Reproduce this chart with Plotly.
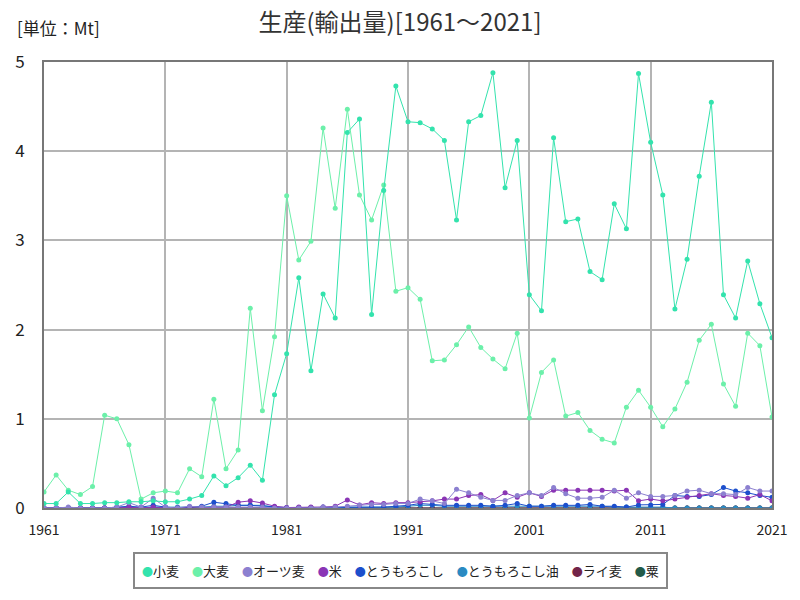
import plotly.graph_objects as go

years = list(range(1961, 2022))

wheat = [0.05, 0.05, 0.18, 0.05, 0.05, 0.06, 0.06, 0.07, 0.07, 0.08,
         0.07, 0.07, 0.10, 0.14, 0.36, 0.25, 0.34, 0.48, 0.31, 1.27,
         1.73, 2.58, 1.54, 2.40, 2.13, 4.21, 4.36, 2.17, 3.56, 4.73,
         4.33, 4.32, 4.25, 4.12, 3.23, 4.33, 4.40, 4.88, 3.59, 4.12,
         2.39, 2.21, 4.15, 3.21, 3.24, 2.65, 2.56, 3.41, 3.13, 4.87,
         4.10, 3.51, 2.23, 2.79, 3.72, 4.55, 2.39, 2.13, 2.77, 2.29, 1.91]

barley = [0.18, 0.37, 0.20, 0.15, 0.24, 1.04, 1.00, 0.71, 0.10, 0.17,
          0.19, 0.17, 0.44, 0.35, 1.22, 0.44, 0.65, 2.24, 1.09, 1.92,
          3.50, 2.78, 2.99, 4.26, 3.36, 4.47, 3.51, 3.23, 3.62, 2.43,
          2.47, 2.34, 1.65, 1.66, 1.83, 2.03, 1.80, 1.67, 1.56, 1.96,
          1.01, 1.52, 1.66, 1.03, 1.07, 0.87, 0.77, 0.73, 1.13, 1.32,
          1.13, 0.91, 1.11, 1.41, 1.88, 2.06, 1.39, 1.14, 1.96, 1.82, 1.02]

oats = [0.00, 0.00, 0.01, 0.00, 0.00, 0.00, 0.01, 0.06, 0.01, 0.11,
        0.01, 0.00, 0.02, 0.01, 0.01, 0.01, 0.01, 0.01, 0.01, 0.00,
        0.00, 0.00, 0.00, 0.01, 0.01, 0.02, 0.03, 0.04, 0.04, 0.05,
        0.05, 0.10, 0.08, 0.05, 0.21, 0.17, 0.12, 0.085, 0.085, 0.14,
        0.17, 0.14, 0.23, 0.16, 0.11, 0.11, 0.12, 0.20, 0.11, 0.17,
        0.13, 0.13, 0.14, 0.19, 0.20, 0.16, 0.16, 0.15, 0.23, 0.19, 0.19]

rice = [0.00, 0.00, 0.00, 0.00, 0.00, 0.00, 0.00, 0.01, 0.00, 0.01,
        0.00, 0.00, 0.00, 0.00, 0.01, 0.01, 0.065, 0.08, 0.055, 0.02,
        0.005, 0.01, 0.01, 0.01, 0.02, 0.09, 0.035, 0.06, 0.05, 0.06,
        0.06, 0.07, 0.08, 0.10, 0.10, 0.14, 0.15, 0.085, 0.17, 0.12,
        0.17, 0.13, 0.20, 0.20, 0.20, 0.20, 0.20, 0.19, 0.20, 0.08,
        0.10, 0.08, 0.10, 0.12, 0.14, 0.16, 0.14, 0.13, 0.11, 0.15, 0.08]

maize = [0.00, 0.00, 0.00, 0.00, 0.00, 0.00, 0.01, 0.02, 0.01, 0.03,
         0.01, 0.00, 0.01, 0.02, 0.065, 0.05, 0.03, 0.03, 0.02, 0.01,
         0.005, 0.005, 0.005, 0.01, 0.01, 0.01, 0.01, 0.01, 0.01, 0.02,
         0.03, 0.05, 0.04, 0.03, 0.03, 0.03, 0.03, 0.02, 0.03, 0.05,
         0.02, 0.02, 0.03, 0.03, 0.03, 0.04, 0.02, 0.02, 0.01, 0.035,
         0.035, 0.04, 0.14, 0.13, 0.13, 0.15, 0.23, 0.19, 0.17, 0.14, 0.12]

maize_oil = [0.00, 0.00, 0.00, 0.00, 0.00, 0.00, 0.00, 0.00, 0.00, 0.01,
             0.01, 0.01, 0.01, 0.01, 0.02, 0.02, 0.03, 0.03, 0.03, 0.01,
             0.00, 0.00, 0.00, 0.00, 0.00, 0.01, 0.01, 0.01, 0.01, 0.01,
             0.02, 0.03, 0.03, 0.02, 0.02, 0.02, 0.02, 0.02, 0.02, 0.02,
             0.02, 0.02, 0.02, 0.02, 0.02, 0.02, 0.02, 0.01, 0.01, 0.01,
             0.01, 0.01, 0.00, 0.00, 0.00, 0.00, 0.00, 0.00, 0.00, 0.00, 0.00]

rye = [0.0] * 61

millet = [0.0] * 61

series_names = ["小麦", "大麦", "オーツ麦", "米", "とうもろこし", "とうもろこし油", "ライ麦", "粟"]
series_values = [wheat, barley, oats, rice, maize, maize_oil, rye, millet]
series_colors = ["#33e3ad", "#6cf0aa", "#8c80d0", "#8a35b5", "#1c4fcc", "#2a8ac2", "#722448", "#225a48"]

x_ticks = list(range(1961, 2022, 10))

fig = go.Figure()

draw_order = [7, 6, 5, 4, 3, 2, 1, 0]
for i in draw_order:
    fig.add_trace(go.Scatter(
        x=years, y=series_values[i], mode="lines+markers",
        line=dict(color=series_colors[i], width=1),
        marker=dict(color=series_colors[i], size=5),
        showlegend=False, name=series_names[i]))

font_family = "Noto Sans CJK JP"

legend_text = "\u3000".join(
    f"<span style='color:{c};font-size:11px'>●</span>{n}"
    for n, c in zip(series_names, series_colors))

fig.update_layout(
    width=800, height=600,
    paper_bgcolor="white", plot_bgcolor="white",
    margin=dict(l=44, r=28, t=62, b=92),
    font=dict(family=font_family, color="#222", size=14),
    showlegend=False,
    title=dict(text="生産(輸出量)[1961～2021]", x=0.5, xanchor="center",
               y=0.962, yanchor="middle", font=dict(size=24, color="#333")),
    xaxis=dict(range=[1961, 2021], tickvals=x_ticks, showgrid=True,
               gridcolor="#b4b4b4", gridwidth=1.5, zeroline=False,
               showline=True, linecolor="#777", linewidth=2, mirror=True,
               ticks="", ticklabelstandoff=8, tickfont=dict(size=14)),
    yaxis=dict(range=[0, 5], dtick=1, showgrid=True,
               gridcolor="#b4b4b4", gridwidth=1.5, zeroline=False,
               showline=True, linecolor="#777", linewidth=2, mirror=True,
               ticks="", ticklabelstandoff=14, tickfont=dict(size=17)),
    annotations=[
        dict(text="[単位：Mt]", xref="paper", yref="paper",
             x=-0.04, y=1.077, xanchor="left", yanchor="middle",
             showarrow=False, font=dict(size=17, color="#222")),
        dict(text=legend_text, xref="paper", yref="paper",
             x=0.49, y=-0.14, xanchor="center", yanchor="middle",
             showarrow=False, font=dict(size=13, color="#222"),
             bordercolor="#888", borderwidth=2, borderpad=7, bgcolor="white"),
    ],
)

fig.write_html("out.html")
